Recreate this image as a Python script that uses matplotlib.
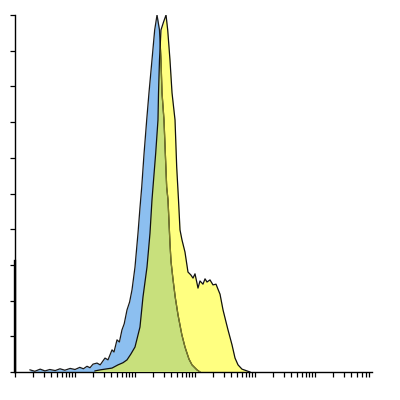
import numpy as np
import matplotlib
matplotlib.use("Agg")
import matplotlib.pyplot as plt
from matplotlib.path import Path
from matplotlib.ticker import LogLocator, MultipleLocator, NullFormatter

# Histogram data (x in decades, y in % of peak)
blue_dec = [0.25, 0.33, 0.42, 0.50, 0.58, 0.67, 0.75, 0.83, 0.92, 1.00, 1.08, 1.14,
            1.20, 1.25, 1.30, 1.367, 1.42, 1.50, 1.55, 1.617, 1.65, 1.70, 1.74, 1.783,
            1.82, 1.867, 1.91, 1.95, 2.00, 2.05, 2.083, 2.112, 2.15, 2.195, 2.233, 2.283,
            2.328, 2.367, 2.408, 2.433, 2.45, 2.483, 2.528, 2.55, 2.583, 2.60, 2.633,
            2.67, 2.717, 2.78, 2.833, 2.90, 2.95, 3.033, 3.083]
blue_cnt = [0.6, 0.2, 0.8, 0.3, 0.7, 0.4, 0.9, 0.5, 1.0, 0.7, 1.3, 0.9,
            1.6, 1.2, 2.2, 2.5, 2.0, 3.9, 3.4, 6.2, 5.6, 9.0, 8.4, 11.8,
            13.5, 17.4, 19.6, 23.0, 29.4, 38.9, 46.0, 51.8, 61.0, 70.6, 78.2, 87.4,
            95.8, 100.0, 95.8, 87.4, 78.2, 70.6, 51.8, 48.2, 36.0, 31.0, 26.0,
            21.0, 16.0, 10.5, 7.0, 3.6, 2.0, 0.6, 0.0]

yellow_dec = [1.333, 1.42, 1.50, 1.617, 1.717, 1.80, 1.867, 1.93, 2.00, 2.083, 2.133,
              2.20, 2.25, 2.283, 2.30, 2.345, 2.383, 2.392, 2.408, 2.433, 2.475, 2.517,
              2.545, 2.583, 2.617, 2.667, 2.695, 2.725, 2.75, 2.783, 2.833, 2.883,
              2.93, 2.967, 3.00, 3.033, 3.05, 3.083, 3.133, 3.167, 3.20, 3.25, 3.30,
              3.35, 3.383, 3.417, 3.467, 3.517, 3.55, 3.617, 3.667, 3.717, 3.783,
              3.867, 3.917]
yellow_cnt = [0.3, 0.6, 0.8, 1.1, 2.0, 2.6, 3.4, 5.0, 7.0, 12.6, 21.0,
              29.4, 38.9, 48.2, 51.8, 61.3, 70.6, 78.2, 87.4, 95.8, 98.0, 100.0,
              95.8, 87.4, 78.2, 70.6, 57.4, 48.2, 39.8, 37.0, 33.6, 28.0,
              27.2, 26.3, 27.5, 24.9, 23.5, 25.5, 24.6, 26.1, 25.2, 25.8, 24.4,
              24.6, 23.2, 21.8, 17.4, 14.0, 11.8, 7.6, 3.9, 2.0, 0.8,
              0.3, 0.0]

blue_fill = "#8cbff0"
yellow_fill = "#ffff80"
green_fill = "#c8e07c"
olive = "#7d7d2a"

bx = 10 ** np.array(blue_dec)
yx = 10 ** np.array(yellow_dec)

fig = plt.figure(figsize=(4, 4), dpi=100)
ax = fig.add_axes([0.0375, 0.07, 0.8925, 0.8925])
ax.set_xscale("log")

ax.fill_between(bx, blue_cnt, 0, color=blue_fill, lw=0, zorder=1)
ypoly = ax.fill_between(yx, yellow_cnt, 0, color=yellow_fill, lw=0, zorder=2)
clip = Path(ypoly.get_paths()[0].vertices)

# overlap of the two histograms
g = ax.fill_between(bx, blue_cnt, 0, color=green_fill, lw=0, zorder=3)
g.set_clip_path(clip, ax.transData)

ax.plot(bx, blue_cnt, color="#1a1a1a", lw=0.9, zorder=4)
inner, = ax.plot(bx, blue_cnt, color=olive, lw=0.9, zorder=5)
inner.set_clip_path(clip, ax.transData)
ax.plot(yx, yellow_cnt, color="#111111", lw=0.9, zorder=6)

ax.set_xlim(1, 10 ** 5.95)
ax.set_ylim(0, 100)

for s in ["top", "right"]:
    ax.spines[s].set_visible(False)
for s in ["left", "bottom"]:
    ax.spines[s].set_linewidth(1.0)

ax.plot([0, 0], [0, 0.31], transform=ax.transAxes, color="black", lw=1.7,
        clip_on=False, zorder=7)

ax.yaxis.set_major_locator(MultipleLocator(10))
ax.xaxis.set_major_locator(LogLocator(base=10, numticks=10))
ax.xaxis.set_minor_locator(LogLocator(base=10, subs=np.arange(2, 10), numticks=10))
ax.xaxis.set_major_formatter(NullFormatter())
ax.xaxis.set_minor_formatter(NullFormatter())
ax.yaxis.set_major_formatter(NullFormatter())
ax.tick_params(axis="both", which="both", direction="out", length=3.5, width=0.9)

fig.savefig("out.png", dpi=100, facecolor="white")
